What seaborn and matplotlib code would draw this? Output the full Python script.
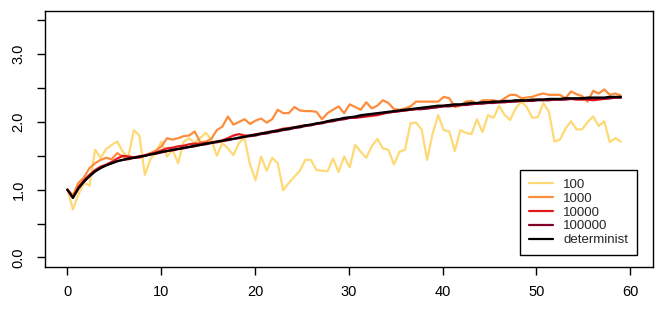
import numpy as np
import pandas as pd
import matplotlib
matplotlib.use("Agg")
import matplotlib.pyplot as plt
import seaborn as sns

# time grid (101 points, one every 0.59 time unit)
steps = np.arange(101)
time = steps * 0.59

n100 = [1.00, 0.71, 0.93, 1.10, 1.06, 1.59, 1.47, 1.60, 1.66, 1.71,
        1.56, 1.48, 1.88, 1.80, 1.22, 1.45, 1.56, 1.71, 1.49, 1.59,
        1.39, 1.71, 1.76, 1.69, 1.76, 1.84, 1.74, 1.50, 1.69, 1.61,
        1.51, 1.69, 1.76, 1.37, 1.14, 1.49, 1.28, 1.47, 1.39, 0.99,
        1.10, 1.19, 1.28, 1.44, 1.44, 1.29, 1.28, 1.27, 1.46, 1.26,
        1.49, 1.33, 1.66, 1.56, 1.47, 1.64, 1.75, 1.61, 1.59, 1.37,
        1.56, 1.59, 1.98, 1.99, 1.89, 1.44, 1.83, 2.10, 1.88, 1.86,
        1.57, 1.88, 1.84, 1.82, 2.04, 1.85, 2.10, 2.06, 2.24, 2.10,
        2.03, 2.20, 2.30, 2.22, 2.06, 2.07, 2.28, 2.15, 1.71, 1.74,
        1.90, 2.01, 1.89, 1.89, 2.00, 2.08, 1.94, 2.01, 1.70, 1.76,
        1.71]

n1000 = [1.00, 0.92, 1.10, 1.18, 1.32, 1.39, 1.44, 1.47, 1.45, 1.54,
         1.49, 1.47, 1.48, 1.47, 1.50, 1.54, 1.58, 1.64, 1.76, 1.74,
         1.76, 1.79, 1.80, 1.86, 1.70, 1.71, 1.75, 1.88, 1.93, 2.08,
         1.96, 2.00, 2.04, 1.97, 2.02, 2.05, 1.99, 2.04, 2.18, 2.13,
         2.13, 2.22, 2.17, 2.16, 2.16, 2.15, 2.04, 2.13, 2.18, 2.23,
         2.13, 2.26, 2.22, 2.18, 2.29, 2.20, 2.24, 2.32, 2.28, 2.19,
         2.18, 2.20, 2.23, 2.30, 2.30, 2.30, 2.30, 2.30, 2.37, 2.35,
         2.22, 2.24, 2.30, 2.31, 2.27, 2.32, 2.32, 2.32, 2.30, 2.35,
         2.40, 2.40, 2.35, 2.36, 2.37, 2.40, 2.42, 2.40, 2.40, 2.40,
         2.35, 2.45, 2.41, 2.38, 2.30, 2.46, 2.42, 2.48, 2.40, 2.42,
         2.39]

n10000 = [1.00, 0.89, 1.04, 1.14, 1.22, 1.29, 1.34, 1.37, 1.41, 1.46,
          1.50, 1.49, 1.48, 1.49, 1.51, 1.53, 1.55, 1.58, 1.61, 1.62,
          1.64, 1.65, 1.67, 1.68, 1.68, 1.69, 1.70, 1.71, 1.73, 1.76,
          1.80, 1.82, 1.80, 1.80, 1.82, 1.83, 1.85, 1.86, 1.88, 1.90,
          1.91, 1.92, 1.94, 1.95, 1.96, 1.97, 1.99, 2.01, 2.02, 2.04,
          2.05, 2.06, 2.06, 2.07, 2.08, 2.09, 2.10, 2.12, 2.14, 2.15,
          2.16, 2.17, 2.18, 2.19, 2.19, 2.20, 2.21, 2.22, 2.24, 2.25,
          2.25, 2.25, 2.26, 2.27, 2.27, 2.28, 2.29, 2.30, 2.29, 2.30,
          2.30, 2.31, 2.31, 2.31, 2.32, 2.33, 2.33, 2.33, 2.33, 2.33,
          2.34, 2.34, 2.33, 2.33, 2.33, 2.32, 2.33, 2.34, 2.35, 2.36,
          2.36]

n100000 = [1.00, 0.88, 1.02, 1.12, 1.20, 1.27, 1.32, 1.36, 1.39, 1.42,
           1.44, 1.45, 1.47, 1.48, 1.50, 1.52, 1.53, 1.55, 1.57, 1.58,
           1.60, 1.61, 1.63, 1.64, 1.66, 1.67, 1.69, 1.70, 1.72, 1.73,
           1.75, 1.76, 1.78, 1.79, 1.80, 1.82, 1.83, 1.85, 1.86, 1.88,
           1.89, 1.91, 1.92, 1.94, 1.95, 1.97, 1.98, 2.00, 2.01, 2.03,
           2.04, 2.06, 2.07, 2.08, 2.10, 2.11, 2.12, 2.13, 2.14, 2.15,
           2.16, 2.17, 2.18, 2.19, 2.19, 2.20, 2.21, 2.22, 2.23, 2.23,
           2.24, 2.25, 2.25, 2.26, 2.27, 2.27, 2.28, 2.28, 2.29, 2.29,
           2.30, 2.30, 2.31, 2.31, 2.31, 2.32, 2.32, 2.32, 2.33, 2.33,
           2.33, 2.34, 2.34, 2.34, 2.34, 2.35, 2.35, 2.35, 2.35, 2.36,
           2.36]

determinist = [1.00, 0.88, 1.02, 1.12, 1.20, 1.27, 1.32, 1.36, 1.39, 1.42,
               1.44, 1.46, 1.47, 1.49, 1.50, 1.52, 1.54, 1.56, 1.57, 1.59,
               1.60, 1.62, 1.63, 1.65, 1.66, 1.68, 1.69, 1.71, 1.72, 1.74,
               1.75, 1.77, 1.78, 1.80, 1.81, 1.83, 1.84, 1.86, 1.87, 1.89,
               1.90, 1.92, 1.93, 1.95, 1.96, 1.98, 1.99, 2.01, 2.03, 2.04,
               2.06, 2.07, 2.08, 2.10, 2.11, 2.12, 2.13, 2.14, 2.15, 2.16,
               2.17, 2.18, 2.19, 2.20, 2.21, 2.22, 2.23, 2.24, 2.24, 2.25,
               2.26, 2.26, 2.27, 2.28, 2.28, 2.29, 2.29, 2.30, 2.30, 2.31,
               2.31, 2.32, 2.32, 2.32, 2.33, 2.33, 2.33, 2.34, 2.34, 2.34,
               2.35, 2.35, 2.35, 2.35, 2.36, 2.36, 2.36, 2.36, 2.37, 2.37,
               2.37]

series_names = ["100", "1000", "10000", "100000", "determinist"]
series_colors = ["#FED976", "#FD8D3C", "#E31A1C", "#800026", "#000000"]

y_ticks = [0.0, 0.5, 1.0, 1.5, 2.0, 2.5, 3.0, 3.5]
y_labels = ["0.0", "", "1.0", "", "2.0", "", "3.0", ""]
x_ticks = [0, 10, 20, 30, 40, 50, 60]

# long format table for seaborn
frames = []
for name, vals in zip(series_names, [n100, n1000, n10000, n100000, determinist]):
    frames.append(pd.DataFrame({"time": time, "value": vals, "series": name}))
df = pd.concat(frames, ignore_index=True)

sns.set_theme(style="white")
plt.rcParams["font.family"] = ["Liberation Sans", "DejaVu Sans"]

fig = plt.figure(figsize=(6.6, 3.1), dpi=100)
ax = fig.add_axes([0.068, 0.139, 0.921, 0.826])

sns.lineplot(data=df, x="time", y="value", hue="series", hue_order=series_names,
             palette=dict(zip(series_names, series_colors)), linewidth=1.6,
             estimator=None, sort=False, ax=ax)

ax.set_xlim(-2.4, 62.4)
ax.set_ylim(-0.14, 3.64)
ax.set_xticks(x_ticks)
ax.set_xticklabels([str(t) for t in x_ticks])
ax.set_yticks(y_ticks)
ax.set_yticklabels(y_labels, rotation=90, va="center")
ax.set_xlabel("")
ax.set_ylabel("")

for sp in ax.spines.values():
    sp.set_color("black")
    sp.set_linewidth(1.0)
    sp.set_visible(True)

# seaborn's white style hides tick marks, turn them back on
ax.tick_params(axis="both", direction="out", length=6, width=1, color="black",
               labelsize=10.5, labelcolor="black", bottom=True, left=True)
ax.tick_params(axis="x", pad=7)
ax.tick_params(axis="y", pad=8)

handles, labels = ax.get_legend_handles_labels()
leg = ax.legend(handles, labels, loc="lower right", bbox_to_anchor=(0.974, 0.047),
                borderaxespad=0, fontsize=9.5, frameon=True, fancybox=False,
                edgecolor="black", framealpha=1, handlelength=1.8,
                handletextpad=0.8, labelspacing=0.12, borderpad=0.65)
leg.get_frame().set_linewidth(1.0)
for line in leg.get_lines():
    line.set_linewidth(1.6)

fig.savefig("out.png", dpi=100)
